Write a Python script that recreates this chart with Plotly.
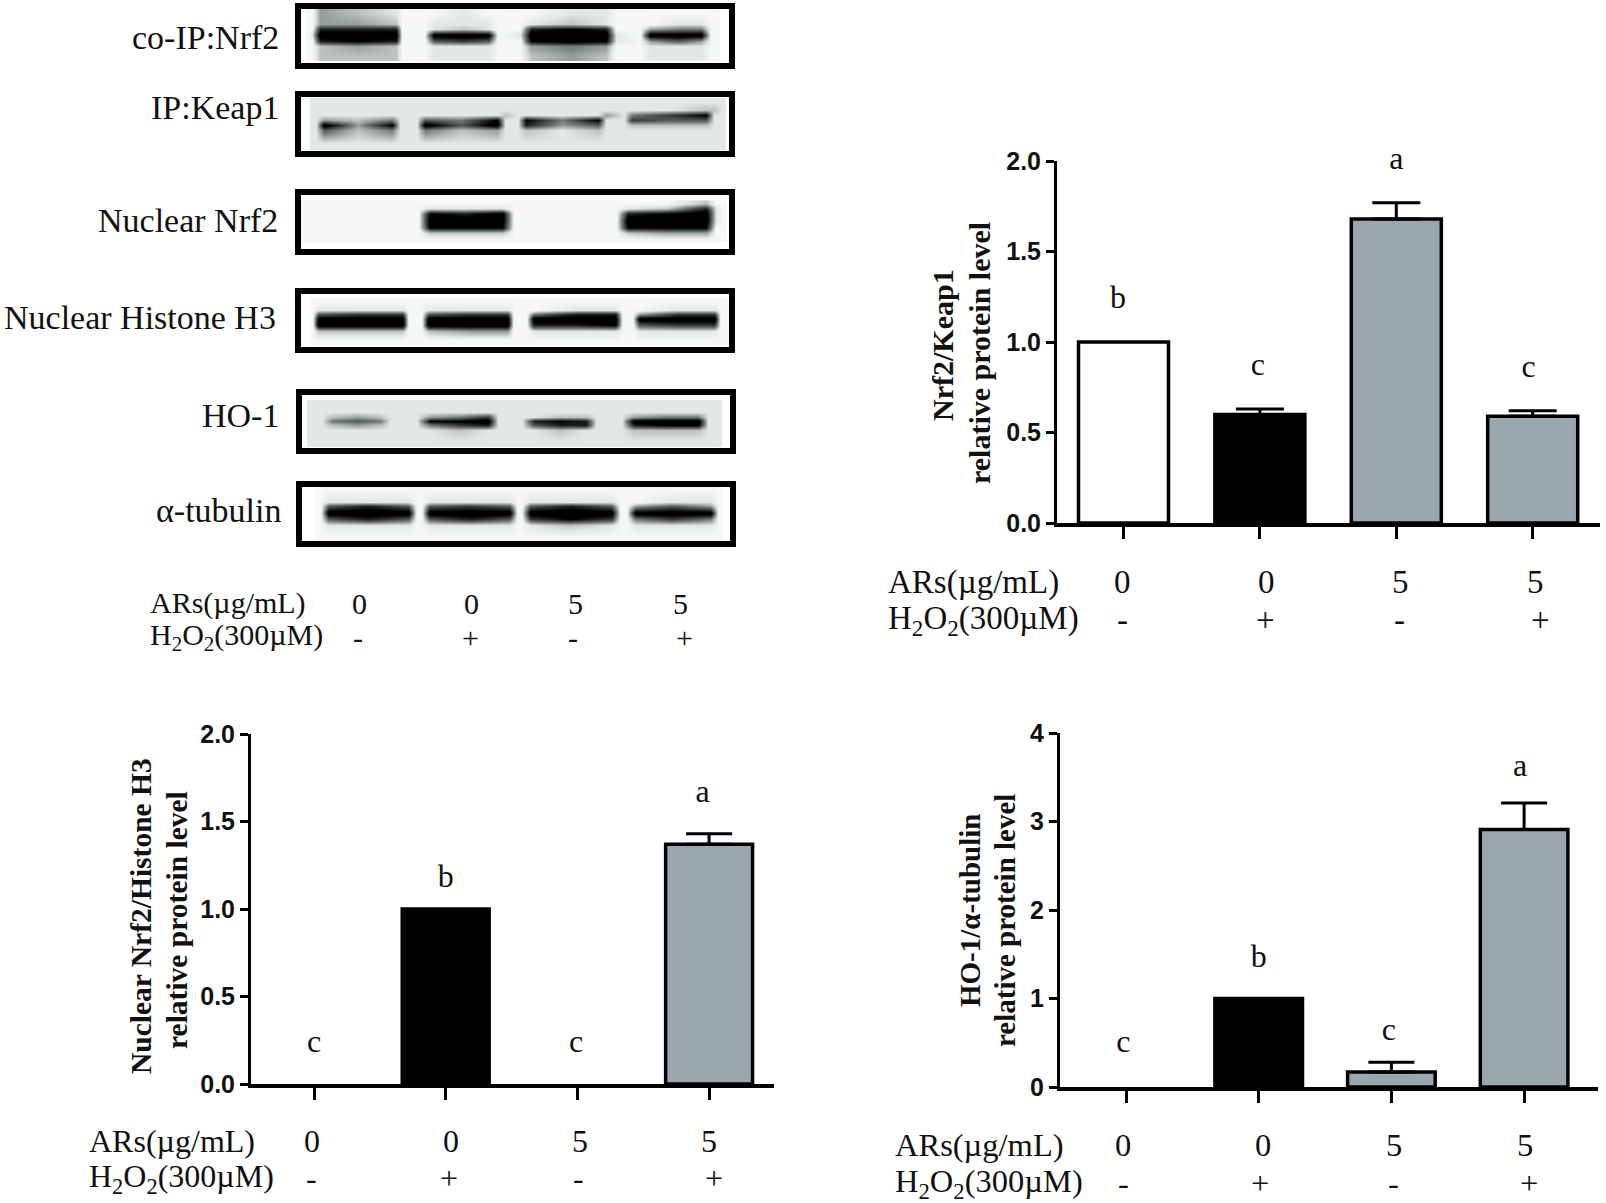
import plotly.graph_objects as go

W, H = 1606, 1203
SERIF = "Liberation Serif"
SANS = "Liberation Sans"

# ---------- bar chart data ----------
CONDITIONS = [0, 1, 2, 3]

KEAP_VALUES = [1.0, 0.60, 1.68, 0.59]
KEAP_ERROR_AT = [1, 2, 3]
KEAP_ERRORS = [0.03, 0.09, 0.03]
KEAP_LETTERS = ["b", "c", "a", "c"]
KEAP_LETTER_X = [-0.04, 0.985, 2.0, 2.97]
KEAP_LETTER_Y = [1.23, 0.86, 2.0, 0.85]
KEAP_COLORS = ["#ffffff", "#000000", "#9aa8ae", "#9aa8ae"]

NUC_VALUES = [0, 1.0, 0, 1.37]
NUC_ERROR_AT = [3]
NUC_ERRORS = [0.06]
NUC_LETTERS = ["c", "b", "c", "a"]
NUC_LETTER_X = [0, 1, 1.99, 2.95]
NUC_LETTER_Y = [0.228, 1.17, 0.228, 1.655]
NUC_COLORS = ["#ffffff", "#000000", "#ffffff", "#9aa8ae"]

HO_VALUES = [0, 1.0, 0.17, 2.91]
HO_ERROR_AT = [2, 3]
HO_ERRORS = [0.11, 0.30]
HO_LETTERS = ["c", "b", "c", "a"]
HO_LETTER_X = [-0.02, 1, 1.98, 2.97]
HO_LETTER_Y = [0.485, 1.45, 0.624, 3.61]
HO_COLORS = ["#ffffff", "#000000", "#9aa8ae", "#9aa8ae"]

ARS_LABEL = "ARs(µg/mL)"
H2O2_LABEL = "H<sub>2</sub>O<sub>2</sub>(300µM)"
ARS_DOSES = ["0", "0", "5", "5"]
H2O2_SIGNS = ["-", "+", "-", "+"]

# ---------- blot densitometry grids (0 = background, 8+ = black) ----------
COIP_X = [308, 312, 320, 358, 396, 402, 424, 434, 464, 488, 498, 520, 531, 571, 606, 616, 640, 650, 678, 701, 711, 717]
COIP_Y = [13, 24, 29, 35, 41, 46, 56]
COIP = ["0 03210 00100 00110 00000 0",
        "0 03320 01110 01210 00110 0",
        "0 07770 01210 07870 03440 0",
        "0 19990 09990 19991 09990 0",
        "0 07870 05650 08981 03530 0",
        "0 02320 01110 03430 01110 0",
        "0 02220 01110 02320 01110 0"]

KEAP_X = [312, 316, 324, 358, 392, 400, 417, 425, 461, 497, 505, 518, 526, 562, 598, 606, 624, 632, 669, 706, 714, 722]
KEAP_Y = [102, 110, 115, 120, 125, 130, 143]
KEAP = ["1 11111 11111 11111 11111 1",
        "1 11111 11111 11111 11122 1",
        "1 11111 11112 11113 14681 1",
        "1 13241 15481 18481 16551 1",
        "1 19381 19591 17351 12221 1",
        "1 15241 14231 12121 11111 1",
        "1 11111 11111 11111 11111 1"]

NRF_X = [307, 330, 340, 370, 390, 400, 418, 430, 466, 502, 514, 530, 545, 570, 590, 605, 616, 628, 668, 706, 716, 723]
NRF_Y = [203, 208, 213, 220, 227, 232, 239]
NRF = ["0 00000 00000 00000 00020 0",
       "0 00000 01110 00000 01271 0",
       "0 00000 08790 00000 07891 0",
       "0 00000 09990 00000 09991 0",
       "0 00000 08880 00000 08880 0",
       "0 00000 02220 00000 02330 0",
       "0 00000 00000 00000 00000 0"]

H3_X = [311, 312, 318, 359, 402, 408, 421, 428, 469, 507, 513, 526, 533, 575, 615, 622, 632, 639, 677, 714, 720, 726]
H3_Y = [302, 310, 314, 319, 325, 331, 340]
H3 = ["0 00000 00000 00000 00000 0",
      "0 01110 01110 00110 00110 0",
      "0 05660 05660 04770 03660 0",
      "0 09990 09990 09990 09990 0",
      "0 09990 09990 07780 05660 0",
      "0 02220 02330 01110 01110 0",
      "0 00000 00000 00000 00000 0"]

HO_X = [312, 322, 332, 357, 380, 390, 417, 430, 459, 488, 498, 522, 534, 560, 586, 596, 622, 634, 667, 698, 708, 717]
HO_Y = [404, 412, 417, 421, 425, 430, 441]
HO = ["1 11111 11111 11111 11111 1",
      "1 11111 11111 11111 11111 1",
      "1 12321 13461 11221 13441 1",
      "1 14541 18891 17871 19991 1",
      "1 12321 14671 15771 17881 1",
      "1 11111 11211 11211 12221 1",
      "1 11111 11111 11111 11111 1"]

TUB_X = [317, 320, 328, 368, 408, 416, 421, 429, 469, 509, 517, 521, 530, 570, 611, 620, 626, 635, 672, 710, 718, 721]
TUB_Y = [490, 502, 506, 513, 519, 525, 537]
TUB = ["0 00000 00000 00000 00000 0",
       "0 01110 01110 01110 00110 0",
       "0 05750 05650 05750 03530 0",
       "0 09990 09990 09990 09990 0",
       "0 05750 05750 06860 04640 0",
       "0 01110 01110 01210 01110 0",
       "0 00000 00000 00000 00000 0"]

BLOT_NAMES = ["co-IP:Nrf2", "IP:Keap1", "Nuclear Nrf2", "Nuclear Histone H3", "HO-1", "α-tubulin"]

fig = go.Figure()
ann = []


def px(x):
    return x / W


def py(y):
    return 1 - y / H


def label(text, x, y, size=30, anchor="center", bold=False, angle=0):
    ann.append(dict(text=f"<b>{text}</b>" if bold else text, x=px(x), y=py(y), xref="paper", yref="paper",
                    showarrow=False, xanchor=anchor, yanchor="middle", textangle=angle,
                    font=dict(family=SERIF, size=size, color="#111111")))


BLOT_SCALE = [[0, "#f6f7f7"], [0.125, "#e2e7e7"], [0.5, "#707878"], [1, "#000000"]]
blots = [(COIP_X, COIP_Y, COIP, (295, 735, 3, 69), (281, 38)),
         (KEAP_X, KEAP_Y, KEAP, (295, 735, 91, 157), (281, 108)),
         (NRF_X, NRF_Y, NRF, (295, 735, 189, 255), (280, 220)),
         (H3_X, H3_Y, H3, (295, 735, 288, 353), (278, 318)),
         (HO_X, HO_Y, HO, (296, 736, 389, 454), (281, 416)),
         (TUB_X, TUB_Y, TUB, (296, 736, 481, 547), (283, 511))]

axis_n = 0
layout_axes = {}
FRAME = 6
for name, (bx, by, rows, (x0, x1, y0, y1), (lx, ly)) in zip(BLOT_NAMES, blots):
    axis_n += 1
    sfx = "" if axis_n == 1 else str(axis_n)
    z = [[int(c) for c in r.replace(" ", "")] for r in rows]
    fig.add_trace(go.Heatmap(x=bx, y=by, z=z, zmin=0, zmax=8, zsmooth="best", colorscale=BLOT_SCALE,
                             showscale=False, xaxis=f"x{sfx}", yaxis=f"y{sfx}", name=name))
    xi0, xi1, yi0, yi1 = x0 + FRAME, x1 - FRAME, y0 + FRAME, y1 - FRAME
    common = dict(showgrid=False, zeroline=False, showticklabels=False, ticks="", showline=True,
                  linewidth=FRAME, linecolor="#000000", mirror=True)
    layout_axes[f"xaxis{sfx}"] = dict(domain=[px(xi0), px(xi1)], range=[xi0, xi1], anchor=f"y{sfx}", **common)
    layout_axes[f"yaxis{sfx}"] = dict(domain=[py(yi1), py(yi0)], range=[yi1, yi0], anchor=f"x{sfx}", **common)
    label(name, lx, ly, size=34, anchor="right")

# condition labels under the blots
label(ARS_LABEL, 148, 603, anchor="left")
label(H2O2_LABEL, 148, 637, anchor="left")
for t, x in zip(ARS_DOSES, [359, 471, 575, 680]):
    label(t, x, 603)
for t, x in zip(H2O2_SIGNS, [358, 470, 573, 684]):
    label(t, x, 637)

charts = [
    dict(v=KEAP_VALUES, ea=KEAP_ERROR_AT, e=KEAP_ERRORS, c=KEAP_COLORS, lt=KEAP_LETTERS, lx=KEAP_LETTER_X, ly=KEAP_LETTER_Y,
         box=(1057, 1600, 161, 523), first=1123.5, step=136.4, ymax=2, dtick=0.5, fmt=".1f", cap=24,
         title=["Nrf2/Keap1", "relative protein level"], tx=[942, 980], ty=[345, 353], tsize=30,
         lbl=(886, 582, 620), lsize=33, dx=[1122, 1266, 1400, 1535], sx=[1122, 1265, 1399, 1540]),
    dict(v=NUC_VALUES, ea=NUC_ERROR_AT, e=NUC_ERRORS, c=NUC_COLORS, lt=NUC_LETTERS, lx=NUC_LETTER_X, ly=NUC_LETTER_Y,
         box=(251, 774, 734, 1084), first=314, step=131.7, ymax=2, dtick=0.5, fmt=".1f", cap=23,
         title=["Nuclear Nrf2/Histone H3", "relative protein level"], tx=[141, 177], ty=[916, 920], tsize=29.5,
         lbl=(87, 1141, 1178), lsize=32, dx=[312, 451, 580, 709], sx=[311, 449, 578, 714]),
    dict(v=HO_VALUES, ea=HO_ERROR_AT, e=HO_ERRORS, c=HO_COLORS, lt=HO_LETTERS, lx=HO_LETTER_X, ly=HO_LETTER_Y,
         box=(1060, 1598, 733, 1087), first=1126, step=132.7, ymax=4, dtick=1, fmt="d", cap=23,
         title=["HO-1/α-tubulin", "relative protein level"], tx=[970, 1005], ty=[911, 920], tsize=29,
         lbl=(893, 1145, 1183), lsize=32.5, dx=[1123, 1263, 1394, 1525], sx=[1123, 1260, 1393, 1529]),
]

for ch in charts:
    axis_n += 1
    sfx = str(axis_n)
    x0, x1, y0, y1 = ch["box"]
    fig.add_trace(go.Bar(x=CONDITIONS, y=ch["v"], width=0.66,
                         marker=dict(color=ch["c"], line=dict(color="#000000", width=[3.5 if v else 0 for v in ch["v"]])),
                         xaxis=f"x{sfx}", yaxis=f"y{sfx}", showlegend=False))
    # upper error bars only, for the bars that have one
    fig.add_trace(go.Scatter(x=ch["ea"], y=[ch["v"][i] for i in ch["ea"]], mode="markers",
                             marker=dict(size=1, opacity=0),
                             error_y=dict(type="data", symmetric=False, array=ch["e"], arrayminus=[0] * len(ch["e"]),
                                          thickness=3, width=ch["cap"], color="#000000"),
                             xaxis=f"x{sfx}", yaxis=f"y{sfx}", showlegend=False))
    fig.add_trace(go.Scatter(x=ch["lx"], y=ch["ly"], text=ch["lt"], mode="text", cliponaxis=False,
                             textfont=dict(family=SERIF, size=32, color="#111111"),
                             xaxis=f"x{sfx}", yaxis=f"y{sfx}", showlegend=False))
    layout_axes[f"xaxis{sfx}"] = dict(domain=[px(x0), px(x1)], anchor=f"y{sfx}",
                                      range=[(x0 - ch["first"]) / ch["step"], (x1 - ch["first"]) / ch["step"]],
                                      tickvals=CONDITIONS, showticklabels=False, ticks="outside", ticklen=12, tickwidth=3,
                                      tickcolor="#000000", showline=True, linewidth=3.5, linecolor="#000000",
                                      showgrid=False, zeroline=False)
    layout_axes[f"yaxis{sfx}"] = dict(domain=[py(y1), py(y0)], anchor=f"x{sfx}", range=[0, ch["ymax"]],
                                      dtick=ch["dtick"], tickformat=ch["fmt"], ticks="outside", ticklen=8, tickwidth=3,
                                      tickcolor="#000000", showline=True, linewidth=3, linecolor="#000000",
                                      showgrid=False, zeroline=False,
                                      tickfont=dict(family=SANS, size=25, color="#111111", weight=700))
    for t, tx, ty in zip(ch["title"], ch["tx"], ch["ty"]):
        label(t, tx, ty, size=ch["tsize"], bold=True, angle=-90)
    lx, ay, hy = ch["lbl"]
    label(ARS_LABEL, lx, ay, size=ch["lsize"], anchor="left")
    label(H2O2_LABEL, lx, hy, size=ch["lsize"], anchor="left")
    for t, x in zip(ARS_DOSES, ch["dx"]):
        label(t, x, ay, size=ch["lsize"])
    for t, x in zip(H2O2_SIGNS, ch["sx"]):
        label(t, x, hy, size=ch["lsize"])

fig.update_layout(width=W, height=H, margin=dict(l=0, r=0, t=0, b=0, autoexpand=False), autosize=False, showlegend=False,
                  paper_bgcolor="#ffffff", plot_bgcolor="rgba(0,0,0,0)", annotations=ann, **layout_axes)
fig.write_html("out.html", config={"displayModeBar": False}, post_script="document.body.style.margin='0';")
